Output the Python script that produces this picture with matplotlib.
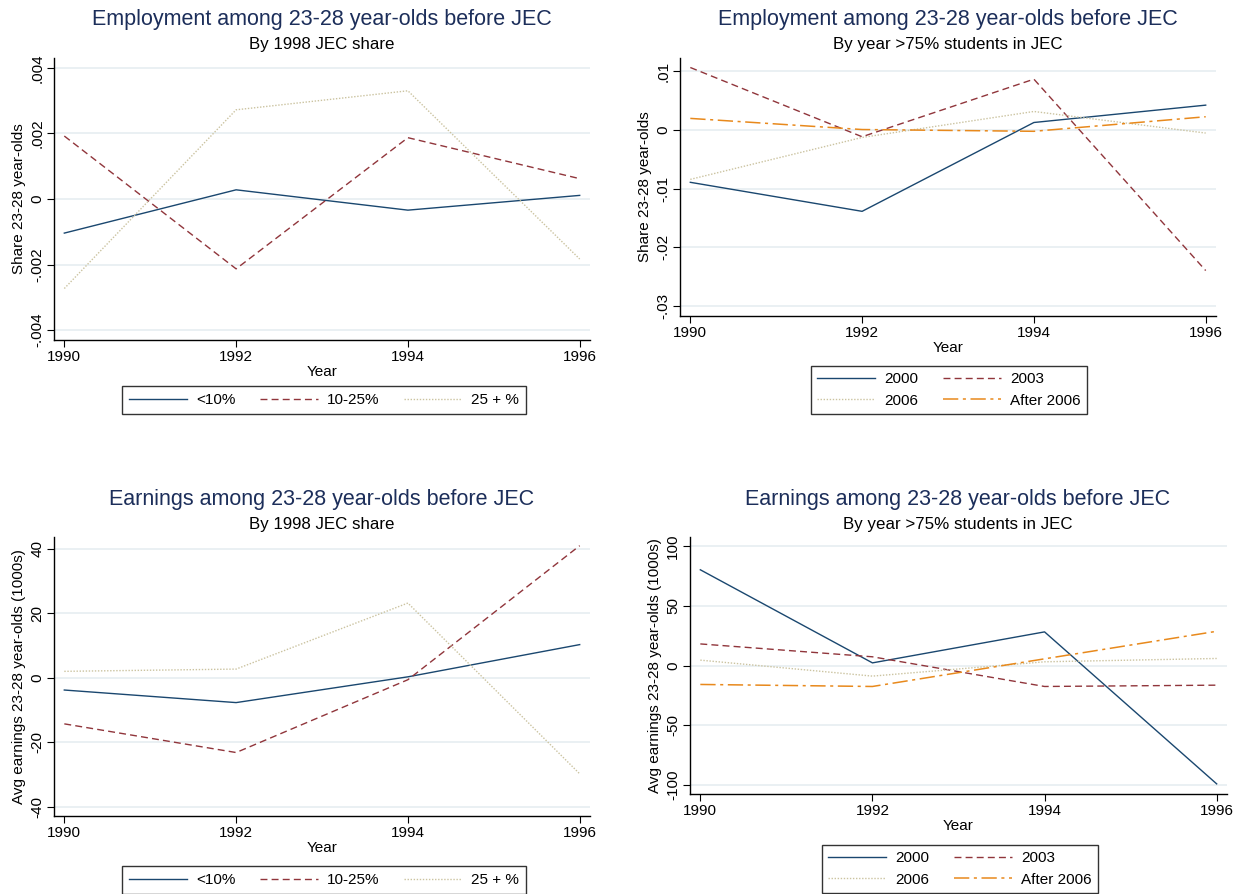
import matplotlib
matplotlib.use("Agg")
import matplotlib.pyplot as plt

plt.rcParams['font.family'] = ['Liberation Sans', 'DejaVu Sans']

years = [1990, 1992, 1994, 1996]

# Top-left: Employment by 1998 JEC share
emp_share_lt10 = [-0.00104, 0.00028, -0.00034, 0.00011]
emp_share_10_25 = [0.00192, -0.00213, 0.00187, 0.00062]
emp_share_25p = [-0.00273, 0.00272, 0.00330, -0.00183]

# Top-right: Employment by year >75% students in JEC
emp_year_2000 = [-0.0089, -0.01385, 0.0013, 0.00426]
emp_year_2003 = [0.01068, -0.00113, 0.00869, -0.02395]
emp_year_2006 = [-0.0084, -0.00125, 0.00318, -0.0005]
emp_year_after = [0.0020, 0.0001, -0.0002, 0.00228]

# Bottom-left: Earnings by 1998 JEC share
earn_share_lt10 = [-3.8, -7.7, 0.3, 10.3]
earn_share_10_25 = [-14.3, -23.2, -0.6, 41.0]
earn_share_25p = [2.0, 2.7, 23.2, -29.8]

# Bottom-right: Earnings by year >75% students in JEC
earn_year_2000 = [80.3, 2.2, 28.2, -99.3]
earn_year_2003 = [18.1, 7.3, -17.6, -16.5]
earn_year_2006 = [4.5, -8.9, 3.1, 5.9]
earn_year_after = [-15.9, -17.6, 5.6, 28.7]

share_labels = ["<10%", "10-25%", "25 + %"]
year_labels = ["2000", "2003", "2006", "After 2006"]

ticks_tl = [-0.004, -0.002, 0, 0.002, 0.004]
ticklabels_tl = ["-.004", "-.002", "0", ".002", ".004"]
ticks_tr = [-0.03, -0.02, -0.01, 0, 0.01]
ticklabels_tr = ["-.03", "-.02", "-.01", "0", ".01"]
ticks_bl = [-40, -20, 0, 20, 40]
ticklabels_bl = ["-40", "-20", "0", "20", "40"]
ticks_br = [-100, -50, 0, 50, 100]
ticklabels_br = ["-100", "-50", "0", "50", "100"]

NAVY = "#1a476f"
MAROON = "#90353b"
KHAKI = "#cbc3a0"
ORANGE = "#e8891c"
TITLE_C = "#1c2e5a"
GRID_C = "#e6edf1"

styles = [
    dict(color=NAVY, lw=1.0, ls="-"),
    dict(color=MAROON, lw=1.0, ls=(0, (5, 3))),
    dict(color=KHAKI, lw=1.0, ls=(0, (1, 1.2))),
    dict(color=ORANGE, lw=1.1, ls=(0, (10, 3, 2, 3))),
]

W, H = 1239, 894
fig = plt.figure(figsize=(W / 100, H / 100), dpi=100)
fig.patch.set_facecolor("white")


def make_ax(x0, x1, y0, y1):
    return fig.add_axes([x0 / W, 1 - y1 / H, (x1 - x0) / W, (y1 - y0) / H])


def style_ax(ax, ticks, ticklabels, ylim, ylabel):
    ax.set_xlim(1989.88, 1996.12)
    ax.set_ylim(*ylim)
    ax.set_xticks(years)
    ax.set_xticklabels([str(y) for y in years], fontsize=11)
    ax.set_yticks(ticks)
    ax.set_yticklabels(ticklabels, fontsize=11, rotation=90, va="center")
    ax.spines["top"].set_visible(False)
    ax.spines["right"].set_visible(False)
    for s in ("left", "bottom"):
        ax.spines[s].set_linewidth(1.0)
        ax.spines[s].set_color("black")
    ax.tick_params(direction="out", length=5, width=0.8, pad=2)
    ax.grid(axis="y", color=GRID_C, lw=1.2)
    ax.set_axisbelow(True)
    ax.set_xlabel("Year", fontsize=11, labelpad=1)
    ax.set_ylabel(ylabel, fontsize=11, labelpad=3)


def titles(cx, ty, title, subtitle):
    fig.text(cx / W, 1 - ty / H, title, ha="center", va="center", fontsize=15.5, color=TITLE_C)
    fig.text(cx / W, 1 - (ty + 25) / H, subtitle, ha="center", va="center", fontsize=12.2, color="black")


def legend(handles, labels, cx, top, ncol, rows):
    leg = fig.legend(handles, labels, loc="upper center",
                     bbox_to_anchor=(cx / W, 1 - top / H),
                     ncol=ncol, fontsize=11, frameon=True, fancybox=False,
                     edgecolor="black", handlelength=3.8, handletextpad=0.6,
                     columnspacing=1.6, borderpad=0.45 if rows == 1 else 0.4,
                     labelspacing=0.5, borderaxespad=0)
    leg.get_frame().set_linewidth(1.0)
    return leg


order = [0, 2, 1, 3]

# Top-left
ax1 = make_ax(54, 590, 58, 340)
h1 = []
for vals, st in zip([emp_share_lt10, emp_share_10_25, emp_share_25p], styles[:3]):
    h1.append(ax1.plot(years, vals, **st)[0])
style_ax(ax1, ticks_tl, ticklabels_tl, (-0.0043, 0.0043), "Share 23-28 year-olds")
titles(322, 20, "Employment among 23-28 year-olds before JEC", "By 1998 JEC share")
legend(h1, share_labels, 324, 386, 3, 1)

# Top-right
ax2 = make_ax(680, 1216, 58, 316)
h2 = []
for vals, st in zip([emp_year_2000, emp_year_2003, emp_year_2006, emp_year_after], styles):
    h2.append(ax2.plot(years, vals, **st)[0])
style_ax(ax2, ticks_tr, ticklabels_tr, (-0.0317, 0.0123), "Share 23-28 year-olds")
titles(948, 20, "Employment among 23-28 year-olds before JEC", "By year >75% students in JEC")
legend([h2[i] for i in order], [year_labels[i] for i in order], 949, 366, 2, 2)

# Bottom-left
ax3 = make_ax(54, 590, 537, 816)
h3 = []
for vals, st in zip([earn_share_lt10, earn_share_10_25, earn_share_25p], styles[:3]):
    h3.append(ax3.plot(years, vals, **st)[0])
style_ax(ax3, ticks_bl, ticklabels_bl, (-42.9, 43.7), "Avg earnings 23-28 year-olds (1000s)")
titles(322, 499, "Earnings among 23-28 year-olds before JEC", "By 1998 JEC share")
legend(h3, share_labels, 324, 866, 3, 1)

# Bottom-right
ax4 = make_ax(690, 1227, 537, 794)
h4 = []
for vals, st in zip([earn_year_2000, earn_year_2003, earn_year_2006, earn_year_after], styles):
    h4.append(ax4.plot(years, vals, **st)[0])
style_ax(ax4, ticks_br, ticklabels_br, (-107.8, 107.8), "Avg earnings 23-28 year-olds (1000s)")
titles(958, 499, "Earnings among 23-28 year-olds before JEC", "By year >75% students in JEC")
legend([h4[i] for i in order], [year_labels[i] for i in order], 960, 845, 2, 2)

fig.savefig("out.png", dpi=100)
